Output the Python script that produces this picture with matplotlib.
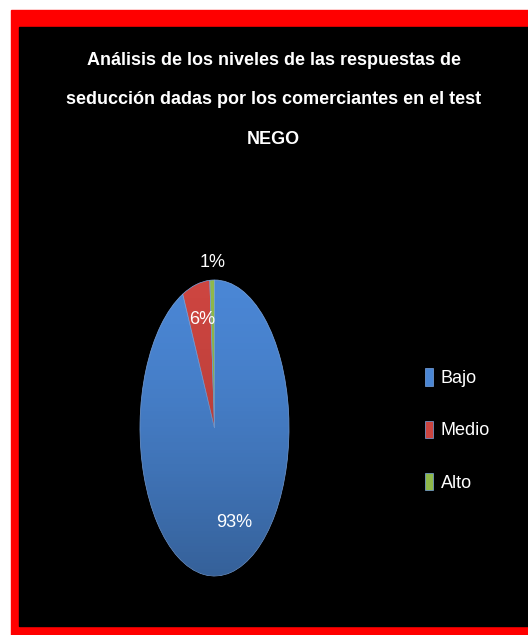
import numpy as np
import matplotlib.pyplot as plt
from matplotlib.patches import Rectangle, Circle

# datos del grafico
niveles = ['Bajo', 'Medio', 'Alto']
porcentajes = [93, 6, 1]
colores = ['#4a86d4', '#cc4540', '#8fb84a']
titulo = ('Análisis de los niveles de las respuestas de\n'
          'seducción dadas por los comerciantes en el test\n'
          'NEGO')

plt.rcParams['font.family'] = ['Liberation Sans', 'DejaVu Sans']

W, H = 528, 635
fig = plt.figure(figsize=(W / 100, H / 100), dpi=100, facecolor='white')

# marco rojo y fondo negro
fig.patches.append(Rectangle((11 / W, 0), 1 - 11 / W, 1 - 10 / H,
                             transform=fig.transFigure, color='#ff0000', zorder=-2))
fig.patches.append(Rectangle((19 / W, 9 / H), 1 - 19 / W, 1 - 36 / H,
                             transform=fig.transFigure, color='black', zorder=-1))

fig.text(0.518, 1 - 100 / H, titulo, ha='center', va='center', color='white',
         fontsize=13, fontweight='bold', linespacing=2.75)

ax = fig.add_axes([140 / W, 1 - 576 / H, 149 / W, 296 / H])
wedges, textos, pcts = ax.pie(porcentajes, colors=colores, startangle=90,
                              counterclock=False, autopct='%1.0f%%',
                              pctdistance=0.7,
                              wedgeprops=dict(edgecolor='#7aa6e2', linewidth=0.5),
                              textprops=dict(color='white', fontsize=13, zorder=5))
ax.set_aspect('auto')
ax.set_xlim(-1, 1)
ax.set_ylim(-1, 1)
ax.axis('off')

# sombreado suave (efecto 3D del original)
grad = np.linspace(0, 1, 200).reshape(-1, 1)
sombra = ax.imshow(np.dstack([np.zeros_like(grad)] * 3 + [0.28 * grad ** 1.5]),
                   extent=(-1, 1, -1, 1), origin='upper', aspect='auto', zorder=3)
sombra.set_clip_path(Circle((0, 0), 1, transform=ax.transData))

# posiciones de etiquetas como en el original
pcts[0].set_position((0.27, -0.64))
pcts[1].set_position((-0.17, 0.73))
pcts[2].set_position((-0.03, 1.12))

leg = fig.legend(wedges, niveles, loc='center left',
                 bbox_to_anchor=(409 / W, 1 - 430 / H), frameon=False,
                 fontsize=13, labelcolor='white', handlelength=0.45,
                 handleheight=1.1, handletextpad=0.4, labelspacing=1.85)

fig.savefig('out.png', dpi=100, facecolor='white')
